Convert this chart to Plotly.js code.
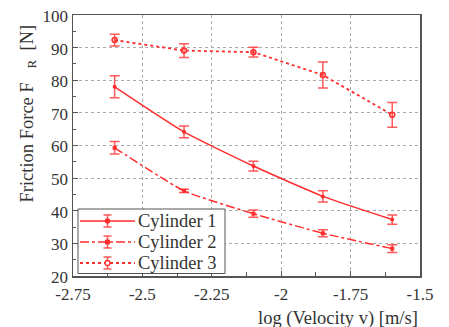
<!DOCTYPE html>
<html><head><meta charset="utf-8">
<script src="https://cdn.plot.ly/plotly-3.0.1.min.js"></script>
<style>html,body{margin:0;padding:0;background:#fff}#c{width:449px;height:327px}</style>
</head><body><div id="c"></div>
<script>
const logVelocity = [-2.6, -2.35, -2.1, -1.85, -1.6];
const cyl1 = [78.0, 64.2, 53.7, 44.4, 37.3];
const cyl1Err = [3.4, 1.8, 1.5, 1.7, 1.4];
const cyl2 = [59.3, 46.1, 39.1, 33.1, 28.4];
const cyl2Err = [1.9, 0.5, 1.1, 1.1, 1.2];
const cyl3 = [92.3, 89.1, 88.6, 81.6, 69.4];
const cyl3Err = [1.8, 2.1, 1.5, 4.0, 3.8];
const seriesNames = ['Cylinder 1', 'Cylinder 2', 'Cylinder 3'];
const xTickVals = [-2.75, -2.5, -2.25, -2, -1.75, -1.5];
const xTickText = ['-2.75', '-2.5', '-2.25', '-2', '-1.75', '-1.5'];

const red = 'rgb(255,45,45)';
const errColor = 'rgba(255,60,60,0.85)';
const errStyle = (arr) => ({type:'data', array:arr, visible:true, color:errColor, thickness:1.5, width:5});

const traces = [
  {x:logVelocity, y:cyl1, name:seriesNames[0], mode:'lines+markers',
   line:{color:red, width:1.5, shape:'spline', smoothing:0.5},
   marker:{symbol:'circle', size:4, color:red}, error_y:errStyle(cyl1Err)},
  {x:logVelocity, y:cyl2, name:seriesNames[1], mode:'lines+markers',
   line:{color:red, width:1.5, dash:'dashdot', shape:'spline', smoothing:0.5},
   marker:{symbol:'square', size:4, color:red}, error_y:errStyle(cyl2Err)},
  {x:logVelocity, y:cyl3, name:seriesNames[2], mode:'lines+markers',
   line:{color:red, width:1.8, dash:'dot'},
   marker:{symbol:'circle-open', size:5, color:red, line:{width:1.5, color:red}}, error_y:errStyle(cyl3Err)}
];

const fontFam = 'Liberation Serif';
const textColor = '#333';
const W = 449, H = 327;
const M = {l:73, r:29, t:15, b:51};
const PW = W - M.l - M.r, PH = H - M.t - M.b;
// helpers to convert page pixel positions (for the custom legend box) into paper coords
const px = (x) => (x - M.l) / PW;
const py = (y) => (H - M.b - y) / PH;

// custom legend (box, sample lines, error-bar glyphs, markers, labels)
const legendDash = ['solid', 'dashdot', 'dot'];
const legendMarker = ['dot', 'square', 'open'];
const rowsY = [221, 242, 263];
const shapes = [
  {type:'rect', xref:'paper', yref:'paper', x0:px(78), x1:px(225), y0:py(273.5), y1:py(209),
   fillcolor:'#fff', line:{color:'#555', width:1}, layer:'above'}
];
const annotations = [];
seriesNames.forEach((name, i) => {
  const y = rowsY[i];
  shapes.push({type:'line', xref:'paper', yref:'paper', x0:px(80), x1:px(135), y0:py(y), y1:py(y),
    line:{color:red, width:legendDash[i]==='dot'?1.8:1.5, dash:legendDash[i]}, layer:'above'});
  const cx = 107.5;
  shapes.push({type:'line', xref:'paper', yref:'paper', x0:px(cx), x1:px(cx), y0:py(y-6), y1:py(y+6),
    line:{color:errColor, width:1.5}, layer:'above'});
  [y-6, y+6].forEach(yy => shapes.push({type:'line', xref:'paper', yref:'paper', x0:px(cx-4), x1:px(cx+4), y0:py(yy), y1:py(yy),
    line:{color:errColor, width:1.5}, layer:'above'}));
  if (legendMarker[i] === 'square') {
    shapes.push({type:'rect', xref:'paper', yref:'paper', x0:px(cx-2), x1:px(cx+2), y0:py(y+2), y1:py(y-2),
      fillcolor:red, line:{color:red, width:1}, layer:'above'});
  } else {
    const r = legendMarker[i] === 'open' ? 2.5 : 2;
    shapes.push({type:'circle', xref:'paper', yref:'paper', x0:px(cx-r), x1:px(cx+r), y0:py(y+r), y1:py(y-r),
      fillcolor: legendMarker[i] === 'open' ? '#fff' : red, line:{color:red, width:1.3}, layer:'above'});
  }
  annotations.push({text:name, xref:'paper', yref:'paper', x:px(136), y:py(y), xanchor:'left', yanchor:'middle',
    showarrow:false, font:{family:fontFam, size:18.5, color:textColor}});
});

annotations.push(
  {text:'log (Velocity v) [m/s]', xref:'paper', yref:'paper', x:1, y:0,
   xanchor:'right', yanchor:'top', yshift:-30, showarrow:false,
   font:{family:fontFam, size:18.5, color:textColor}},
  {text:'Friction Force F\u00a0\u00a0\u00a0<sub>R</sub>\u00a0\u00a0[N]', xref:'paper', yref:'paper', x:0, y:0.5,
   xanchor:'center', yanchor:'middle', xshift:-45, yshift:32, textangle:-90, showarrow:false,
   font:{family:fontFam, size:18.5, color:textColor}}
);

const axisFont = {family:fontFam, size:17, color:textColor};
const layout = {
  width:W, height:H,
  margin:M,
  paper_bgcolor:'#fff', plot_bgcolor:'#fff',
  font:axisFont,
  showlegend:false,
  xaxis:{range:[-2.75, -1.5], tickvals:xTickVals, ticktext:xTickText, showgrid:true,
         gridcolor:'#aaa', griddash:'dot', gridwidth:1,
         showline:true, linecolor:'#555', linewidth:1.5, mirror:true,
         ticks:'inside', ticklen:5, tickcolor:'#555', ticklabelstandoff:2,
         minor:{tickvals:[-2.625, -2.375, -2.125, -1.875, -1.625], ticks:'inside', ticklen:4, tickcolor:'#555', showgrid:false},
         zeroline:false, tickfont:axisFont},
  yaxis:{range:[20, 100], dtick:10, showgrid:true,
         gridcolor:'#aaa', griddash:'dot', gridwidth:1,
         showline:true, linecolor:'#555', linewidth:1.5, mirror:true,
         ticks:'inside', ticklen:5, tickcolor:'#555', ticklabelshift:1,
         minor:{dtick:5, ticks:'inside', ticklen:3, tickcolor:'#555', showgrid:false},
         zeroline:false, tickfont:axisFont},
  shapes:shapes,
  annotations:annotations
};
Plotly.newPlot('c', traces, layout, {displayModeBar:false, staticPlot:true});
</script></body></html>
